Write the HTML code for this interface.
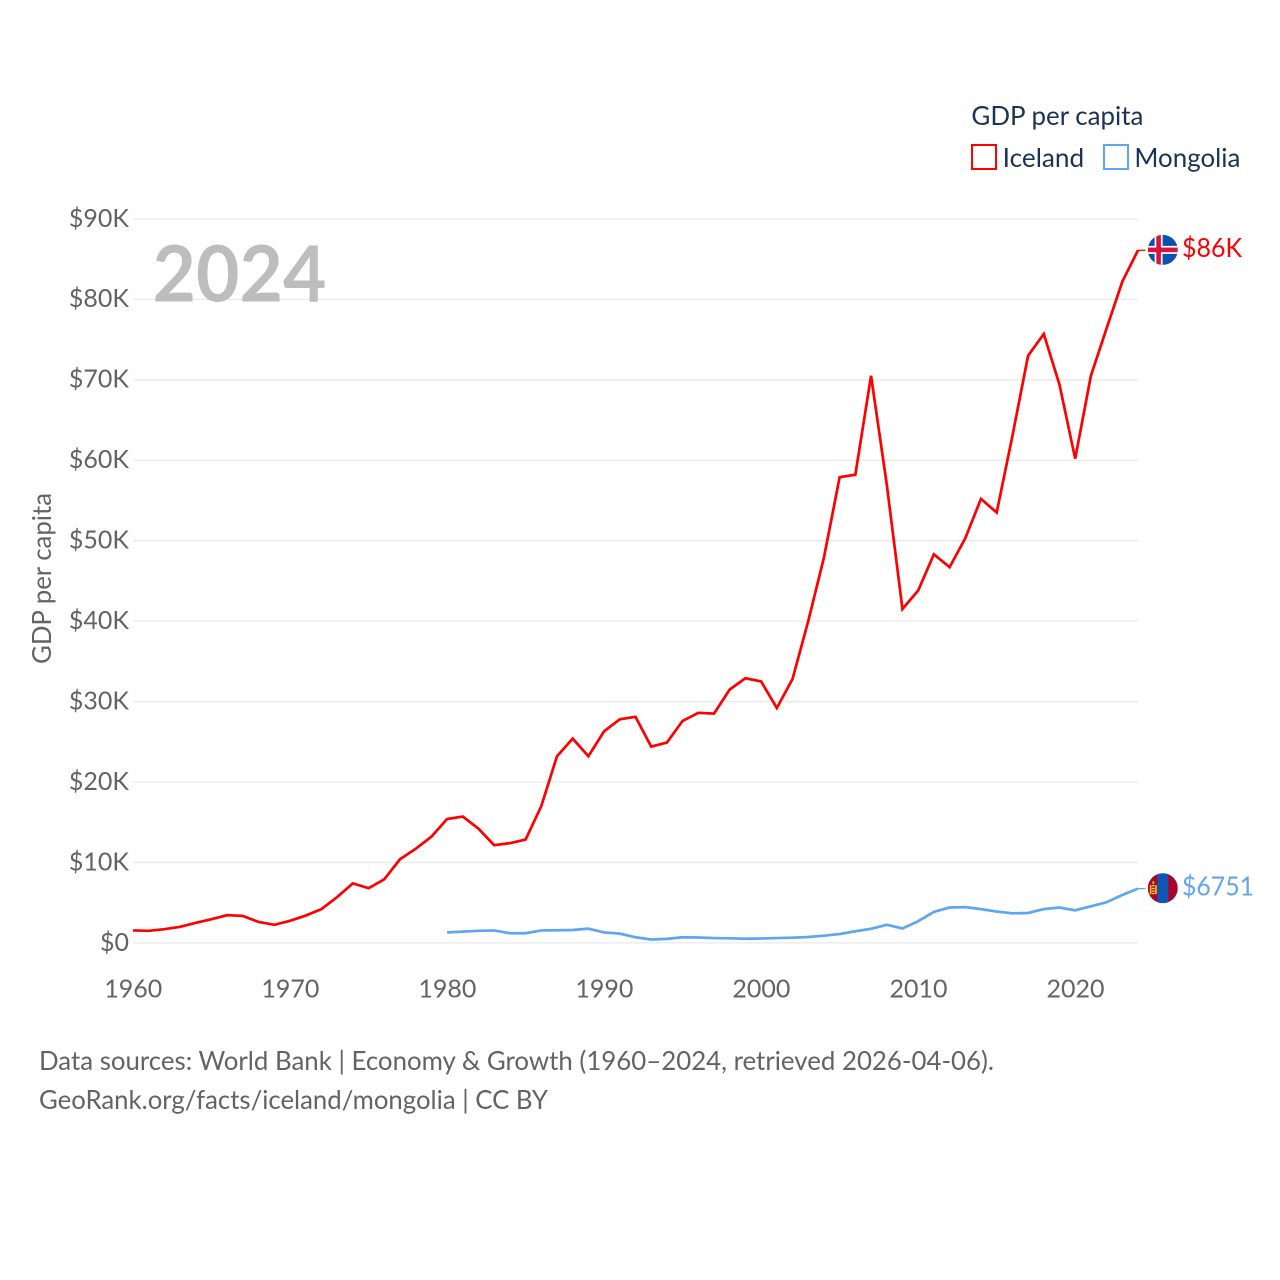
<!DOCTYPE html>
<html lang="en">
<head>
<meta charset="utf-8">
<title>GDP per capita: Iceland and Mongolia</title>
<style>
html,body{margin:0;padding:0;background:#fff;width:1280px;height:1280px;overflow:hidden}
svg{display:block}
text{font-family:"Lato","Carlito","Liberation Sans",sans-serif}
</style>
</head>
<body>
<svg id="chart" xmlns="http://www.w3.org/2000/svg" width="1280" height="1280" viewBox="0 0 1280 1280">
  <defs>
    <clipPath id="flag-clip"><circle cx="0" cy="0" r="15"/></clipPath>
  </defs>
  <rect width="1280" height="1280" fill="#fff"/>
  <g id="grid"></g>
  <g id="y-ticks"></g>
  <g id="x-ticks"></g>
  <text transform="translate(51,578.5) rotate(-90)" text-anchor="middle" font-size="26" fill="#636363" textLength="171" lengthAdjust="spacingAndGlyphs">GDP per capita</text>
  <text x="152.5" y="301.5" font-size="78" font-weight="700" fill="#bdbdbd" textLength="174" lengthAdjust="spacingAndGlyphs">2024</text>
  <path id="line-iceland" fill="none" stroke="#ff0000" stroke-width="2.7" stroke-linejoin="miter"/>
  <path id="line-mongolia" fill="none" stroke="#5fa6ee" stroke-width="2.7" stroke-linejoin="miter"/>
  <path id="conn-iceland" fill="none" stroke="#ff0000" stroke-width="1.3"/>
  <path id="conn-mongolia" fill="none" stroke="#5fa6ee" stroke-width="1.3"/>
  <g id="flag-iceland">
    <g clip-path="url(#flag-clip)">
      <rect x="-15" y="-15" width="30" height="30" fill="#0b52b0"/>
      <rect x="-15" y="-4" width="30" height="8" fill="#fff"/>
      <rect x="-8.2" y="-15" width="8" height="30" fill="#fff"/>
      <rect x="-15" y="-2.3" width="30" height="4.6" fill="#d8143c"/>
      <rect x="-6.5" y="-15" width="4.6" height="30" fill="#d8143c"/>
    </g>
  </g>
  <g id="flag-mongolia">
    <g clip-path="url(#flag-clip)">
      <rect x="-15" y="-15" width="30" height="30" fill="#a5062c"/>
      <rect x="-5.5" y="-15" width="11" height="30" fill="#0f56b5"/>
      <rect x="-13" y="-3" width="1.6" height="9" fill="#f5c518"/>
      <rect x="-7.6" y="-3" width="1.6" height="9" fill="#f5c518"/>
      <rect x="-11" y="-3.2" width="3" height="1.4" fill="#f5c518"/>
      <rect x="-11" y="-0.4" width="3" height="1.4" fill="#f5c518"/>
      <rect x="-11" y="2.2" width="3" height="1.4" fill="#f5c518"/>
      <rect x="-11" y="4.6" width="3" height="1.4" fill="#f5c518"/>
      <rect x="-10.4" y="-7" width="1.8" height="2.8" fill="#f5c518"/>
    </g>
  </g>
  <text id="label-iceland" x="1182" font-size="26" fill="#ff0000" textLength="60" lengthAdjust="spacingAndGlyphs"></text>
  <text id="label-mongolia" x="1182" font-size="26" fill="#5fa6ee" textLength="72" lengthAdjust="spacingAndGlyphs"></text>
  <g>
    <text x="971.4" y="125" font-size="26" fill="#1a3354" textLength="172" lengthAdjust="spacingAndGlyphs">GDP per capita</text>
    <rect x="972" y="145" width="24" height="24" fill="#fff" stroke="#ff0000" stroke-width="2"/>
    <text x="1002.7" y="167" font-size="26" fill="#1a3354" textLength="81.5" lengthAdjust="spacingAndGlyphs">Iceland</text>
    <rect x="1104" y="145" width="24" height="24" fill="#fff" stroke="#5fa6ee" stroke-width="2"/>
    <text x="1134.4" y="167" font-size="26" fill="#1a3354" textLength="106" lengthAdjust="spacingAndGlyphs">Mongolia</text>
  </g>
  <text x="39" y="1070" font-size="26" fill="#636363" textLength="955" lengthAdjust="spacingAndGlyphs">Data sources: World Bank | Economy &amp; Growth (1960–2024, retrieved 2026-04-06).</text>
  <text x="39" y="1109" font-size="26" fill="#636363" textLength="509" lengthAdjust="spacingAndGlyphs">GeoRank.org/facts/iceland/mongolia | CC BY</text>
</svg>
<script>
const icelandStartYear = 1960;
const mongoliaStartYear = 1980;
const icelandValues = [1.55,1.5,1.7,2.0,2.5,2.95,3.45,3.35,2.6,2.25,2.75,3.4,4.2,5.7,7.4,6.8,7.9,10.4,11.7,13.2,15.4,15.7,14.2,12.15,12.4,12.85,17.0,23.2,25.4,23.2,26.3,27.8,28.1,24.4,24.9,27.6,28.6,28.5,31.5,32.9,32.5,29.2,32.8,40.0,47.9,57.9,58.2,70.5,57.0,41.5,43.8,48.3,46.7,50.3,55.2,53.5,63.0,73.0,75.7,69.4,60.2,70.5,76.4,82.2,86.1];
const mongoliaValues = [1.3,1.4,1.5,1.55,1.2,1.2,1.55,1.57,1.6,1.77,1.3,1.15,0.7,0.42,0.5,0.7,0.67,0.6,0.57,0.52,0.55,0.6,0.65,0.73,0.9,1.1,1.45,1.75,2.25,1.8,2.7,3.85,4.4,4.45,4.2,3.9,3.68,3.72,4.2,4.4,4.05,4.55,5.05,5.95,6.751];
const yTickValues = [0,10,20,30,40,50,60,70,80,90];
const yTickLabels = ["$0","$10K","$20K","$30K","$40K","$50K","$60K","$70K","$80K","$90K"];
const xTickYears = [1960,1970,1980,1990,2000,2010,2020];
const icelandLabel = "$86K";
const mongoliaLabel = "$6751";

const SVGNS = "http://www.w3.org/2000/svg";
function xScale(year){ return 133 + (year - 1960) * (1138 - 133) / 64; }
function yScale(v){ return 942.9 - v * (942.9 - 218.9) / 90; }

function linePath(values, startYear){
  return values.map(function(v, i){
    return (i ? "L" : "M") + xScale(startYear + i).toFixed(2) + " " + yScale(v).toFixed(2);
  }).join(" ");
}

const gridGroup = document.getElementById("grid");
const yTickGroup = document.getElementById("y-ticks");
const xTickGroup = document.getElementById("x-ticks");

yTickValues.forEach(function(v, i){
  const ln = document.createElementNS(SVGNS, "line");
  
  
  ln.setAttribute("x1", 133);
  ln.setAttribute("x2", 1138);
  ln.setAttribute("y1", yScale(v));
  ln.setAttribute("y2", yScale(v));
  ln.setAttribute("stroke", "#e9e9e9");
  ln.setAttribute("stroke-width", 1.3);
  gridGroup.appendChild(ln);

  const t = document.createElementNS(SVGNS, "text");
  
  
  t.setAttribute("x", 129);
  t.setAttribute("y", yScale(v) + 7.9);
  t.setAttribute("text-anchor", "end");
  t.setAttribute("font-size", 25);
  t.setAttribute("fill", "#636363");
  t.textContent = yTickLabels[i];
  yTickGroup.appendChild(t);
});

xTickYears.forEach(function(y){
  const t = document.createElementNS(SVGNS, "text");
  
  
  t.setAttribute("x", xScale(y) + 0.3);
  t.setAttribute("y", 997.5);
  t.setAttribute("text-anchor", "middle");
  t.setAttribute("font-size", 25);
  t.setAttribute("fill", "#636363");
  t.textContent = String(y);
  xTickGroup.appendChild(t);
});

document.getElementById("line-iceland").setAttribute("d", linePath(icelandValues, icelandStartYear));
document.getElementById("line-mongolia").setAttribute("d", linePath(mongoliaValues, mongoliaStartYear));

function placeEnd(values, startYear, key, label){
  const last = values[values.length - 1];
  const ex = xScale(startYear + values.length - 1);
  const ey = yScale(last);
  document.getElementById("conn-" + key).setAttribute("d", "M" + ex + " " + ey + " L" + (ex + 7.5) + " " + ey);
  document.getElementById("flag-" + key).setAttribute("transform", "translate(1162.8," + (ey - 0.4) + ")");
  const lab = document.getElementById("label-" + key);
  lab.setAttribute("y", ey + 6.8);
  lab.textContent = label;
}
placeEnd(icelandValues, icelandStartYear, "iceland", icelandLabel);
placeEnd(mongoliaValues, mongoliaStartYear, "mongolia", mongoliaLabel);
</script>
</body>
</html>
